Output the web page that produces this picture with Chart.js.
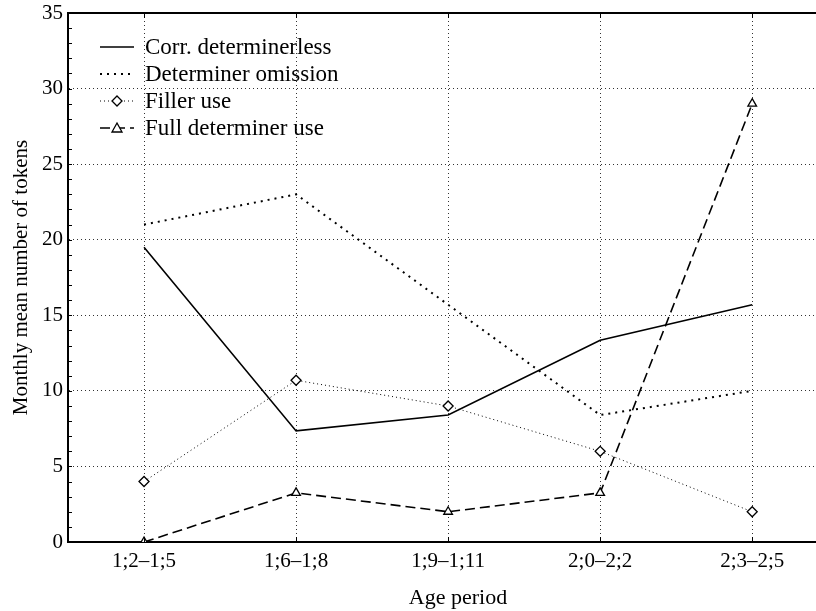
<!DOCTYPE html>
<html>
<head>
<meta charset="utf-8">
<script src="https://cdn.jsdelivr.net/npm/chart.js@4.4.0/dist/chart.umd.min.js"></script>
<style>
  html, body { margin: 0; padding: 0; background: #fff; overflow: hidden; width: 816px; height: 611px; }
  #wrap { width: 848px; height: 611px; }
</style>
</head>
<body>
<div id="wrap"><canvas id="ageChart"></canvas></div>
<script>
// age periods on the x axis
const periods = ["1;2\u20131;5", "1;6\u20131;8", "1;9\u20131;11", "2;0\u20132;2", "2;3\u20132;5"];
const yTicks = [0, 5, 10, 15, 20, 25, 30, 35];

// monthly mean number of tokens
const corrDeterminerless = [19.5, 7.35, 8.4, 13.35, 15.7];
const determinerOmission = [21, 23, 15.7, 8.4, 10];
const fillerUse = [4, 10.7, 9, 6, 2];
const fullDeterminerUse = [0, 3.25, 2, 3.25, 29];

const serif = "'Liberation Serif', 'DejaVu Serif', serif";

function toPoints(arr) {
  return arr.map((v, i) => ({ x: i, y: v }));
}

const datasets = [
  {
    label: "Corr. determinerless",
    data: toPoints(corrDeterminerless),
    borderColor: "#000",
    borderWidth: 1.6,
    borderDash: [],
    pointRadius: 0,
  },
  {
    label: "Determiner omission",
    data: toPoints(determinerOmission),
    borderColor: "#000",
    borderWidth: 2,
    borderDash: [2, 5],
    pointRadius: 0,
  },
  {
    label: "Filler use",
    data: toPoints(fillerUse),
    borderColor: "#000",
    borderWidth: 1,
    borderDash: [1, 3],
    pointStyle: "rectRot",
    pointRadius: 5,
    pointBorderWidth: 1.3,
    pointBackgroundColor: "#fff",
    pointBorderColor: "#000",
  },
  {
    label: "Full determiner use",
    data: toPoints(fullDeterminerUse),
    borderColor: "#000",
    borderWidth: 1.6,
    borderDash: [10, 5],
    pointStyle: "triangle",
    pointRadius: 5,
    pointBorderWidth: 1.3,
    pointBackgroundColor: "#fff",
    pointBorderColor: "#000",
  },
];

// top frame line, inner tick marks and the legend box inside the plot
const framePlugin = {
  id: "frame",
  afterDraw(chart) {
    const { ctx, chartArea } = chart;
    const xs = chart.scales.x;
    const ys = chart.scales.y;
    ctx.save();
    ctx.strokeStyle = "#000";
    ctx.setLineDash([]);
    ctx.lineWidth = 2;
    ctx.beginPath();
    ctx.moveTo(chartArea.left - 1, chartArea.top);
    ctx.lineTo(chartArea.right, chartArea.top);
    ctx.stroke();

    ctx.lineWidth = 1;
    for (let v = 1; v < 35; v++) {
      const py = Math.round(ys.getPixelForValue(v)) + 0.5;
      ctx.beginPath();
      ctx.moveTo(chartArea.left, py);
      ctx.lineTo(chartArea.left + 4, py);
      ctx.stroke();
    }
    periods.forEach((p, i) => {
      const px = Math.round(xs.getPixelForValue(i)) + 0.5;
      ctx.beginPath();
      ctx.moveTo(px, chartArea.bottom);
      ctx.lineTo(px, chartArea.bottom - 5);
      ctx.moveTo(px, chartArea.top);
      ctx.lineTo(px, chartArea.top + 5);
      ctx.stroke();
    });

    // legend
    ctx.font = "23px " + serif;
    ctx.fillStyle = "#000";
    ctx.textBaseline = "middle";
    chart.data.datasets.forEach((ds, i) => {
      const y = 47 + i * 27;
      ctx.lineWidth = ds.borderWidth;
      ctx.setLineDash(ds.borderDash);
      ctx.beginPath();
      ctx.moveTo(100, y);
      ctx.lineTo(134, y);
      ctx.stroke();
      ctx.setLineDash([]);
      if (ds.pointStyle) {
        const cx = 117, r = 5;
        ctx.lineWidth = 1.3;
        ctx.fillStyle = "#fff";
        ctx.beginPath();
        if (ds.pointStyle === "rectRot") {
          ctx.moveTo(cx, y - r);
          ctx.lineTo(cx + r, y);
          ctx.lineTo(cx, y + r);
          ctx.lineTo(cx - r, y);
        } else {
          ctx.moveTo(cx, y - r);
          ctx.lineTo(cx + r, y + r * 0.8);
          ctx.lineTo(cx - r, y + r * 0.8);
        }
        ctx.closePath();
        ctx.fill();
        ctx.stroke();
        ctx.fillStyle = "#000";
      }
      ctx.fillText(ds.label, 145, y + 1);
    });
    ctx.restore();
  },
};

const ctx = document.getElementById("ageChart");
new Chart(ctx, {
  type: "line",
  data: { datasets: datasets },
  options: {
    responsive: true,
    maintainAspectRatio: false,
    animation: false,
    layout: { autoPadding: false, padding: { top: 13, right: 0, left: 0, bottom: 0 } },
    plugins: {
      legend: { display: false },
      tooltip: { enabled: false },
    },
    elements: { line: { tension: 0 } },
    scales: {
      x: {
        type: "linear",
        min: -0.5,
        max: 4.63,
        afterBuildTicks: (s) => {
          s.ticks = periods.map((p, i) => ({ value: i }));
        },
        afterFit: (s) => {
          s.height = 69;
          s.paddingLeft = 0;
          s.paddingRight = 0;
        },
        ticks: {
          callback: (v) => periods[v],
          color: "#000",
          font: { family: serif, size: 21 },
          padding: 7,
          maxRotation: 0,
          autoSkip: false,
        },
        grid: { color: "#333", lineWidth: 1, drawTicks: false },
        border: { color: "#000", width: 2, dash: [1, 3] },
        title: {
          display: true,
          text: "Age period",
          color: "#000",
          font: { family: serif, size: 22 },
          padding: { top: 0, bottom: 0 },
        },
      },
      y: {
        min: 0,
        max: 35,
        afterBuildTicks: (s) => {
          s.ticks = yTicks.map((v) => ({ value: v }));
        },
        afterFit: (s) => {
          s.width = 68;
          s.paddingTop = 0;
          s.paddingBottom = 0;
        },
        ticks: {
          color: "#000",
          font: { family: serif, size: 21 },
          padding: 5,
        },
        grid: { color: "#333", lineWidth: 1, drawTicks: false },
        border: { color: "#000", width: 2, dash: [1, 3] },
        title: {
          display: true,
          text: "Monthly mean number of tokens",
          color: "#000",
          font: { family: serif, size: 21 },
          padding: { top: 9, bottom: 0 },
        },
      },
    },
  },
  plugins: [framePlugin],
});
</script>
</body>
</html>
